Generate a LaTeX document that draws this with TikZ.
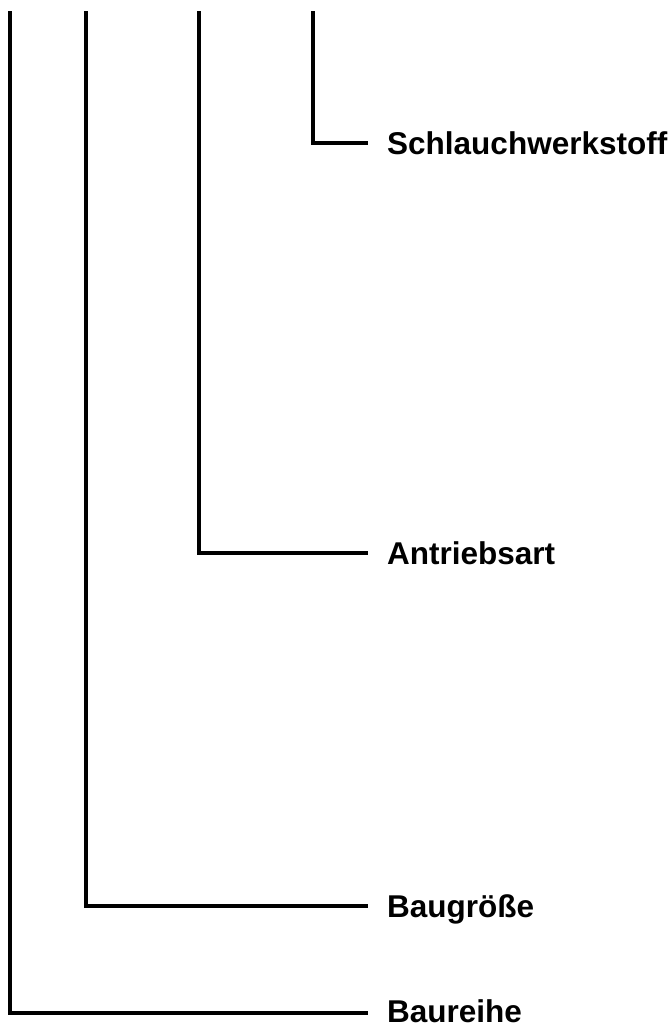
\documentclass[tikz,border=0pt]{standalone}
\usepackage{fontspec}
\setmainfont{Liberation Sans}
\begin{document}
\begin{tikzpicture}[x=1pt,y=-1pt,
  conn/.style={line width=4pt,line join=miter,line cap=butt},
  lbl/.style={anchor=west,inner xsep=19pt,inner ysep=0pt,text height=23pt,text depth=0pt,
    font=\fontsize{31.5}{36}\selectfont\bfseries}]
\useasboundingbox (0,0) rectangle (672,1026);
\coordinate (t1) at (10,11);
\coordinate (t2) at (86,11);
\coordinate (t3) at (199,11);
\coordinate (t4) at (313,11);
\node[lbl] (schlauch) at (368,143) {Schlauchwerkstoff};
\node[lbl] (antrieb) at (368,553) {Antriebsart};
\node[lbl] (groesse) at (368,906) {Baugröße};
\node[lbl,text height=19pt] (reihe) at (368,1013) {Baureihe};
\draw[conn] (t4) |- (schlauch.west);
\draw[conn] (t3) |- (antrieb.west);
\draw[conn] (t2) |- (groesse.west);
\draw[conn] (t1) |- (reihe.west);
\end{tikzpicture}
\end{document}
